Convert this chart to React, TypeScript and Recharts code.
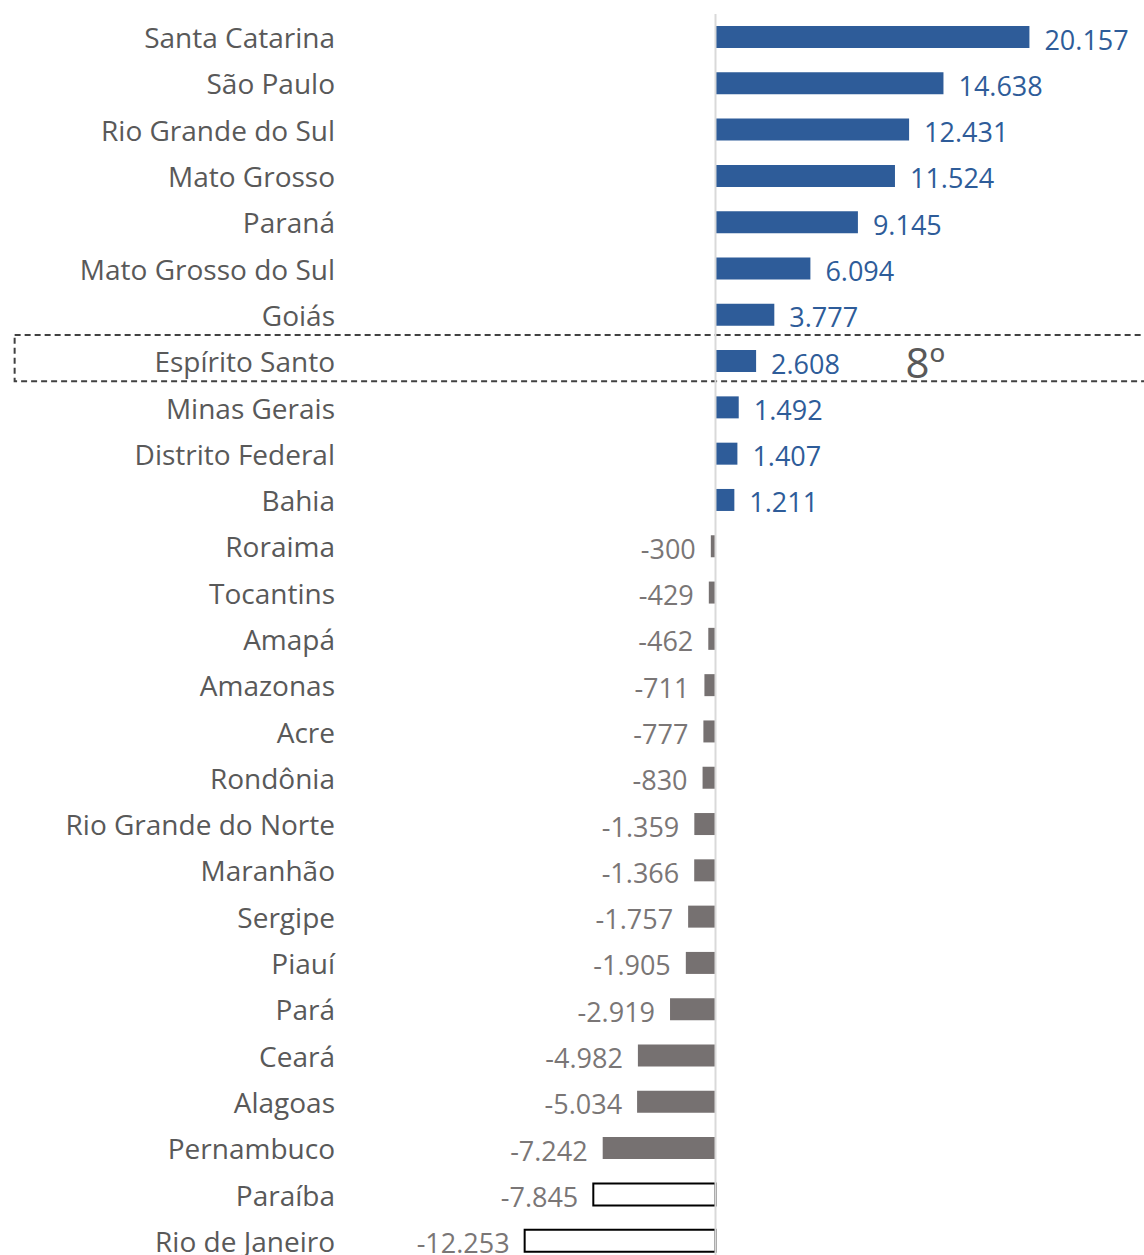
import { BarChart, Bar, XAxis, YAxis, Cell, LabelList, ReferenceLine, ReferenceArea, ReferenceDot } from 'recharts';

// saldo por estado (ordenado do maior para o menor)
const states = [
  'Santa Catarina', 'São Paulo', 'Rio Grande do Sul', 'Mato Grosso', 'Paraná',
  'Mato Grosso do Sul', 'Goiás', 'Espírito Santo', 'Minas Gerais', 'Distrito Federal',
  'Bahia', 'Roraima', 'Tocantins', 'Amapá', 'Amazonas', 'Acre', 'Rondônia',
  'Rio Grande do Norte', 'Maranhão', 'Sergipe', 'Piauí', 'Pará', 'Ceará',
  'Alagoas', 'Pernambuco', 'Paraíba', 'Rio de Janeiro',
];
const balances = [
  20157, 14638, 12431, 11524, 9145, 6094, 3777, 2608, 1492, 1407,
  1211, -300, -429, -462, -711, -777, -830, -1359, -1366, -1757,
  -1905, -2919, -4982, -5034, -7242, -7845, -12253,
];
const highlighted = 'Espírito Santo';
const rankText = '8º';
const outlinedStates = ['Paraíba', 'Rio de Janeiro'];

const data = states.map((state, i) => ({ state, value: balances[i] }));

const FONT = '"Open Sans", "Noto Sans", sans-serif';
const BLUE = '#2E5C99';
const GREY = '#767171';

const fmt = (v: number) => {
  const s = Math.abs(v).toString().replace(/\B(?=(\d{3})+(?!\d))/g, '.');
  return v < 0 ? '-' + s : s;
};

const StateTick = ({ y, payload }: any) => (
  <text x={335} y={y} textAnchor="end" dominantBaseline="central" fill="#595959" fontSize={28} fontFamily={FONT}>
    {payload.value}
  </text>
);

const ValueLabel = ({ x, y, width, height, value }: any) => {
  const left = Math.min(x, x + width);
  const right = Math.max(x, x + width);
  const neg = value < 0;
  return (
    <text
      x={neg ? left - 15 : right + 15}
      y={y + height / 2 + 2}
      textAnchor={neg ? 'end' : 'start'}
      dominantBaseline="central"
      fill={neg ? '#7a7676' : BLUE}
      fontSize={27}
      fontFamily={FONT}
    >
      {fmt(value)}
    </text>
  );
};

const RankLabel = ({ viewBox }: any) => (
  <text x={viewBox.x} y={viewBox.y + viewBox.height / 2} textAnchor="start" dominantBaseline="central" fill="#595959" fontSize={42} fontFamily={FONT}>
    {rankText}
  </text>
);

// dashed frame around the highlighted row, nudged up a little
const FrameShape = ({ x, y, width, height }: any) => (
  <rect x={x} y={y - 3} width={width} height={height} fill="none" stroke="#404040" strokeWidth={2} strokeDasharray="6 4" />
);

export default function App() {
  return (
    <div style={{ position: 'absolute', left: 0, top: 0, width: 1144, height: 1255, overflow: 'hidden', background: '#fff' }}>
      <BarChart
        width={1144}
        height={1266}
        data={data}
        layout="vertical"
        margin={{ top: 14, right: 8, bottom: 2, left: 0 }}
        barSize={22}
      >
        <XAxis type="number" domain={[-20000, 27000]} hide />
        <YAxis type="category" dataKey="state" width={404} axisLine={false} tickLine={false} tick={<StateTick />} interval={0} />
        <ReferenceLine x={0} stroke="#d9d9d9" strokeWidth={2} />
        <Bar dataKey="value" isAnimationActive={false}>
          {data.map((d) => {
            const outlined = outlinedStates.includes(d.state);
            return (
              <Cell
                key={d.state}
                fill={outlined ? '#ffffff' : d.value >= 0 ? BLUE : GREY}
                stroke={outlined ? '#000000' : 'none'}
                strokeWidth={outlined ? 2 : 0}
              />
            );
          })}
          <LabelList dataKey="value" content={<ValueLabel />} />
        </Bar>
        <ReferenceArea
          y1={highlighted}
          y2={highlighted}
          x1={-45000}
          x2={30000}
          ifOverflow="visible"
          shape={<FrameShape />}
        />
        <ReferenceDot x={12200} y={highlighted} r={0} fill="none" stroke="none" label={<RankLabel />} />
      </BarChart>
    </div>
  );
}
